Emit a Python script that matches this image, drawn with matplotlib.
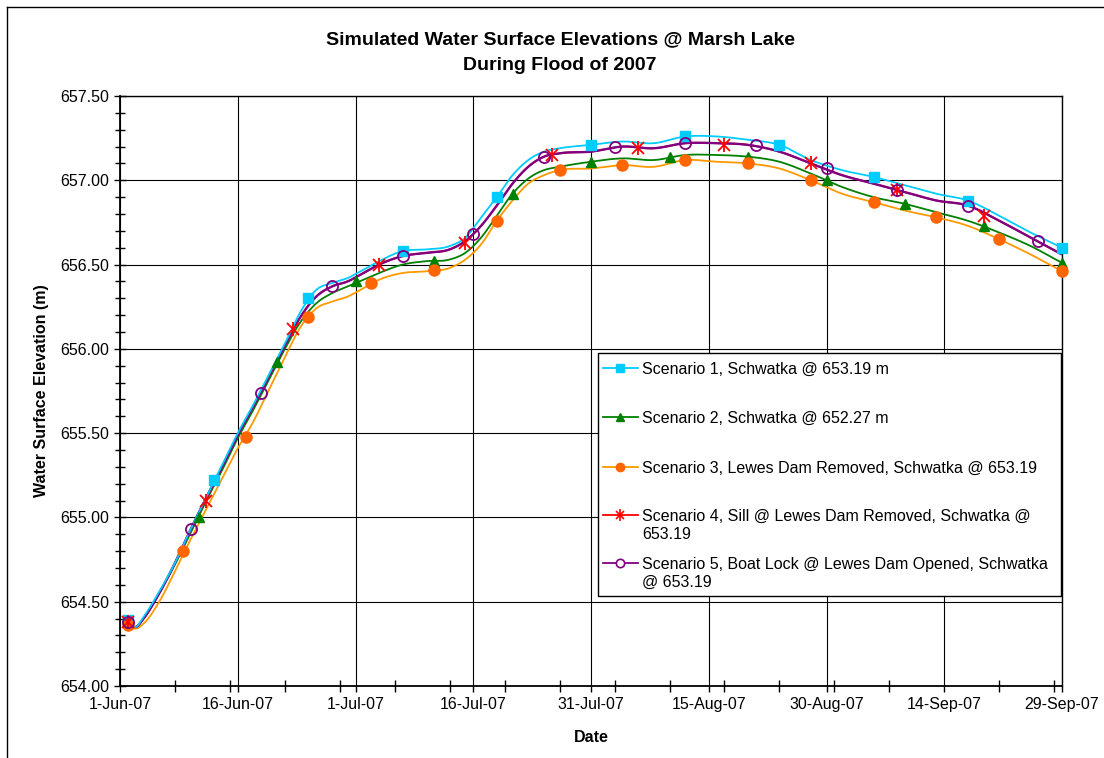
import numpy as np
import matplotlib
matplotlib.use("Agg")
import matplotlib.pyplot as plt
from matplotlib.lines import Line2D
from matplotlib.patches import Rectangle

plt.rcParams['font.family'] = ['Liberation Sans', 'DejaVu Sans']

W, H = 1104, 758

# ---------------- data ----------------
days = [1, 2, 3, 5, 7, 9, 11, 13, 15, 17, 19, 21, 23, 25, 27, 29, 31, 33, 36, 39,
        42, 44, 46, 48, 50, 52, 54, 56, 60, 64, 68, 72, 76, 80, 84, 88, 92, 96,
        100, 104, 108, 112, 116, 120]

s1 = [654.39, 654.35, 654.41, 654.56, 654.73, 654.93, 655.12, 655.31, 655.50, 655.67,
      655.85, 656.03, 656.22, 656.35, 656.39, 656.42, 656.47, 656.52, 656.58, 656.59,
      656.61, 656.66, 656.78, 656.90, 657.03, 657.12, 657.17, 657.19, 657.21, 657.23,
      657.22, 657.26, 657.26, 657.24, 657.21, 657.12, 657.06, 657.02, 656.97, 656.92,
      656.88, 656.79, 656.69, 656.60]
s2 = [654.38, 654.35, 654.40, 654.55, 654.72, 654.91, 655.10, 655.28, 655.47, 655.64,
      655.82, 656.00, 656.16, 656.27, 656.33, 656.37, 656.41, 656.45, 656.50, 656.52,
      656.53, 656.57, 656.66, 656.79, 656.92, 657.01, 657.06, 657.08, 657.11, 657.13,
      657.12, 657.15, 657.15, 657.14, 657.11, 657.04, 656.96, 656.90, 656.86, 656.81,
      656.76, 656.69, 656.61, 656.51]
s3 = [654.36, 654.34, 654.37, 654.50, 654.68, 654.87, 655.05, 655.23, 655.41, 655.57,
      655.76, 655.95, 656.13, 656.24, 656.28, 656.31, 656.36, 656.41, 656.45, 656.46,
      656.48, 656.53, 656.62, 656.76, 656.88, 656.98, 657.03, 657.06, 657.07, 657.09,
      657.08, 657.12, 657.11, 657.10, 657.07, 657.00, 656.92, 656.87, 656.82, 656.78,
      656.73, 656.65, 656.56, 656.46]
s4 = [654.38, 654.35, 654.40, 654.55, 654.73, 654.93, 655.11, 655.30, 655.49, 655.66,
      655.84, 656.02, 656.19, 656.31, 656.37, 656.40, 656.45, 656.50, 656.55, 656.57,
      656.59, 656.64, 656.73, 656.85, 656.98, 657.08, 657.14, 657.16, 657.17, 657.20,
      657.19, 657.22, 657.22, 657.21, 657.17, 657.10, 657.03, 656.98, 656.93, 656.88,
      656.85, 656.76, 656.66, 656.56]
s5 = [654.38, 654.35, 654.40, 654.55, 654.73, 654.93, 655.12, 655.30, 655.49, 655.66,
      655.84, 656.02, 656.19, 656.31, 656.37, 656.40, 656.45, 656.50, 656.55, 656.57,
      656.59, 656.64, 656.73, 656.85, 656.98, 657.08, 657.14, 657.16, 657.17, 657.20,
      657.19, 657.22, 657.22, 657.21, 657.17, 657.10, 657.03, 656.98, 656.93, 656.88,
      656.85, 656.76, 656.66, 656.56]

m1_days = [1, 12, 24, 36, 48, 60, 72, 84, 96, 108, 120]
m1_vals = [654.39, 655.22, 656.30, 656.58, 656.90, 657.21, 657.26, 657.21, 657.02, 656.88, 656.60]
m2_days = [1, 10, 20, 30, 40, 50, 60, 70, 80, 90, 100, 110, 120]
m2_vals = [654.38, 655.00, 655.92, 656.40, 656.52, 656.92, 657.11, 657.14, 657.14, 657.00,
           656.86, 656.73, 656.51]
m3_days = [1, 8, 16, 24, 32, 40, 48, 56, 64, 72, 80, 88, 96, 104, 112, 120]
m3_vals = [654.36, 654.80, 655.48, 656.19, 656.39, 656.47, 656.76, 657.06, 657.09, 657.12,
           657.10, 657.00, 656.87, 656.78, 656.65, 656.46]
m4_days = [1, 11, 22, 33, 44, 55, 66, 77, 88, 99, 110]
m4_vals = [654.38, 655.10, 656.12, 656.50, 656.63, 657.15, 657.19, 657.21, 657.10, 656.94, 656.79]
m5_days = [1, 9, 18, 27, 36, 45, 54, 63, 72, 81, 90, 99, 108, 117]
m5_vals = [654.38, 654.93, 655.74, 656.37, 656.55, 656.68, 657.14, 657.20, 657.22, 657.21,
           657.07, 656.94, 656.85, 656.64]

labels = ["Scenario 1, Schwatka @ 653.19 m",
          "Scenario 2, Schwatka @ 652.27 m",
          "Scenario 3, Lewes Dam Removed, Schwatka @ 653.19",
          "Scenario 4, Sill @ Lewes Dam Removed, Schwatka @\n653.19",
          "Scenario 5, Boat Lock @ Lewes Dam Opened, Schwatka\n@ 653.19"]

x_tick_days = [0, 15, 30, 45, 60, 75, 90, 105, 120]
x_tick_labels = ["1-Jun-07", "16-Jun-07", "1-Jul-07", "16-Jul-07", "31-Jul-07",
                 "15-Aug-07", "30-Aug-07", "14-Sep-07", "29-Sep-07"]
y_ticks = [654.0, 654.5, 655.0, 655.5, 656.0, 656.5, 657.0, 657.5]

title_lines = ["Simulated Water Surface Elevations @ Marsh Lake", "During Flood of 2007"]


def smooth(x, y, n=16):
    x = np.asarray(x, float)
    y = np.asarray(y, float)
    m = np.gradient(y, x)
    xs, ys = [], []
    t = np.linspace(0, 1, n, endpoint=False)
    h00 = 2 * t**3 - 3 * t**2 + 1
    h10 = t**3 - 2 * t**2 + t
    h01 = -2 * t**3 + 3 * t**2
    h11 = t**3 - t**2
    for i in range(len(x) - 1):
        h = x[i + 1] - x[i]
        xs.append(x[i] + t * h)
        ys.append(h00 * y[i] + h10 * h * m[i] + h01 * y[i + 1] + h11 * h * m[i + 1])
    xs.append([x[-1]])
    ys.append([y[-1]])
    return np.concatenate(xs), np.concatenate(ys)


fig = plt.figure(figsize=(W / 100, H / 100), dpi=100)

def fx(px):
    return px / W

def fy(py):
    return 1 - py / H

ax = fig.add_axes([fx(120), fy(686), (1062 - 120) / W, (686 - 96) / H])

# styles
c1, c2, c3l, c3m, c4, c5 = '#00CCFF', '#008000', '#FF9900', '#FF6600', '#FF0000', '#800080'

series = [
    dict(vals=s1, col=c1, lw=1.3, z=6),
    dict(vals=s2, col=c2, lw=1.3, z=4),
    dict(vals=s3, col=c3l, lw=1.3, z=3),
    dict(vals=s4, col=c4, lw=1.3, z=5),
    dict(vals=s5, col=c5, lw=1.7, z=5.5),
]
for s in series:
    xs, ys = smooth(days, s['vals'])
    ax.plot(xs, ys, color=s['col'], lw=s['lw'], zorder=s['z'], clip_on=False,
            solid_capstyle='butt')

ax.plot(m1_days, m1_vals, ls='none', marker='s', ms=7.5, mfc=c1, mec=c1, zorder=10, clip_on=False)
ax.plot(m2_days, m2_vals, ls='none', marker='^', ms=7.5, mfc=c2, mec=c2, zorder=10, clip_on=False)
ax.plot(m3_days, m3_vals, ls='none', marker='o', ms=8, mfc=c3m, mec=c3m, zorder=10, clip_on=False)
ax.plot(m4_days, m4_vals, ls='none', marker='x', ms=8, mec=c4, mew=1.3, zorder=10, clip_on=False)
ax.plot(m4_days, m4_vals, ls='none', marker='|', ms=10, mec=c4, mew=1.3, zorder=10, clip_on=False)
ax.plot(m5_days, m5_vals, ls='none', marker='o', ms=8, mfc='none', mec=c5, mew=1.3, zorder=11, clip_on=False)

ax.set_xlim(0, 120)
ax.set_ylim(654.0, 657.5)
ax.set_xticks(x_tick_days)
ax.set_xticklabels(x_tick_labels)
ax.set_xticks(np.arange(0, 121, 7), minor=True)
ax.set_yticks(y_ticks)
ax.set_yticklabels([f"{v:.2f}" for v in y_ticks])
ax.set_yticks(np.arange(654.0, 657.51, 0.1), minor=True)
ax.grid(True, which='major', color='black', lw=0.8)
ax.set_axisbelow(True)
for sp in ax.spines.values():
    sp.set_color('black')
    sp.set_linewidth(1.0)
ax.spines['left'].set_linewidth(1.3)
ax.spines['bottom'].set_linewidth(1.3)
ax.tick_params(axis='x', which='major', direction='out', length=4, width=1, labelsize=11.5, pad=4)
ax.tick_params(axis='x', which='minor', direction='inout', length=8, width=1)
ax.tick_params(axis='y', which='major', direction='inout', length=9, width=1, labelsize=11.5, pad=3)
ax.tick_params(axis='y', which='minor', direction='inout', length=7, width=1)

# titles and axis labels
fig.text(fx(560), fy(40), title_lines[0], ha='center', va='center', fontsize=14, fontweight='bold')
fig.text(fx(560), fy(65), title_lines[1], ha='center', va='center', fontsize=14, fontweight='bold')
fig.text(fx(591), fy(738), "Date", ha='center', va='center', fontsize=11.5, fontweight='bold')
fig.text(fx(42), fy(391), "Water Surface Elevation (m)", ha='center', va='center',
         rotation=90, fontsize=11.5, fontweight='bold')

# figure border (left and top)
fig.add_artist(Line2D([fx(7), fx(7)], [fy(7), fy(760)], color='black', lw=1.0))
fig.add_artist(Line2D([fx(7), fx(1106)], [fy(7), fy(7)], color='black', lw=1.0))

# legend (manual, Excel-like)
fig.add_artist(Rectangle((fx(598), fy(596)), (1061 - 598) / W, (596 - 353) / H,
                         transform=fig.transFigure, facecolor='white', edgecolor='black',
                         lw=1.0, zorder=20))
rows = [368, 417, 467, 515, 563]
leg_styles = [
    [dict(color=c1, marker='s', ms=5.5, mfc=c1, mec=c1)],
    [dict(color=c2, marker='^', ms=5.5, mfc=c2, mec=c2)],
    [dict(color=c3l, marker='o', ms=6, mfc=c3m, mec=c3m)],
    [dict(color=c4, marker='x', ms=6, mec=c4, mew=1.2), dict(color='none', marker='|', ms=8, mec=c4, mew=1.2)],
    [dict(color=c5, marker='o', ms=6, mfc='white', mec=c5, mew=1.2)],
]
for r, lab, sts in zip(rows, labels, leg_styles):
    for st in sts:
        ln = Line2D([fx(603), fx(620), fx(638)], [fy(r)] * 3, lw=1.3, markevery=[1],
                    transform=fig.transFigure, zorder=21, **st)
        fig.add_artist(ln)
    for k, part in enumerate(lab.split("\n")):
        fig.text(fx(642), fy(r + 1 + 18.3 * k), part, ha='left', va='center', fontsize=11.5, zorder=22)

fig.savefig("out.png", dpi=100)
